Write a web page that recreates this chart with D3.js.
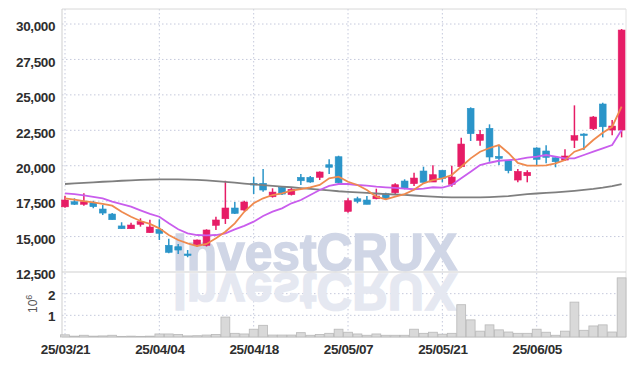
<!DOCTYPE html>
<html>
<head>
<meta charset="utf-8">
<script src="https://cdn.jsdelivr.net/npm/d3@7"></script>
<style>
  body { margin: 0; background: #fff; }
  text { font-family: "Liberation Sans", Arial, sans-serif; }
</style>
</head>
<body>
<svg width="634" height="366"></svg>
<script>
const dates = ["25/03/21","25/03/24","25/03/25","25/03/26","25/03/27","25/03/28","25/03/31","25/04/01","25/04/02","25/04/03",
  "25/04/04","25/04/07","25/04/08","25/04/09","25/04/10","25/04/11","25/04/14","25/04/15","25/04/16","25/04/17",
  "25/04/18","25/04/21","25/04/22","25/04/23","25/04/24","25/04/25","25/04/28","25/04/29","25/04/30","25/05/02",
  "25/05/07","25/05/08","25/05/09","25/05/12","25/05/13","25/05/14","25/05/15","25/05/16","25/05/19","25/05/20",
  "25/05/21","25/05/22","25/05/23","25/05/26","25/05/27","25/05/28","25/05/29","25/05/30","25/06/02","25/06/04",
  "25/06/05","25/06/09","25/06/10","25/06/11","25/06/12","25/06/13","25/06/16","25/06/17","25/06/18","25/06/19"];

const open  = [17100,17460,17280,17390,16945,16590,15750,15555,15865,15275, 15510,14385,14285,13770,14426,14384,15795,16260,17016,16875,
  18760,18760,17810,18477,17960,19180,19180,19180,20070,20635, 16780,17670,17580,17670,18025,18095,18920,18735,19627,18850,
  19680,18690,19930,24050,21793,22640,20660,20350,18990,19295, 21250,21040,20565,20400,21800,22237,22610,24355,22520,22520];
const high  = [17880,17700,18050,17530,17230,16660,16010,15980,16290,16190, 16220,14850,14475,14050,14800,15513,16400,18940,17440,17530,
  19225,19770,18405,18520,18477,19415,19275,19600,20450,20706, 17700,17813,17860,18380,18095,18760,19040,19506,19930,20030,
  19700,20000,21975,24120,22520,22920,21460,20350,19770,19680, 21300,21440,20600,21160,24260,22286,23505,24446,23225,29650];
const low   = [17040,17230,17180,17000,16520,16190,15555,15555,15700,15275, 14760,13820,13770,13540,14285,14300,15463,15890,16600,16800,
  18000,18166,17750,17933,17900,18640,18800,18990,19415,18640, 16685,17348,17277,17630,17580,18000,18335,18570,18760,18850,
  18830,18520,19860,21743,21410,20283,20050,19465,18830,18830, 20050,20170,19890,20350,21250,21110,22520,22000,22145,22000];
const close = [17580,17280,17460,17110,16660,16190,15555,15815,16050,15675, 15230,13890,14050,13680,14758,15463,16170,17016,16640,17440,
  18640,18285,18140,18000,18335,18940,18850,19556,19890,18800, 17530,17490,17277,17860,17670,18660,18405,19130,18830,19365,
  19110,19200,21530,22260,22218,20615,20520,19650,19600,19535, 20450,20590,20283,20685,22120,22145,23435,22750,22800,29575];

const ma5 = [17700,17600,17500,17420,17300,17180,16755,16400,16100,15890, 15580,15110,14760,14525,14335,14476,14878,15345,15935,16750,
  17348,17700,17933,18053,18237,18356,18476,18640,19110,19225, 18870,18640,18285,17813,17630,17813,18000,18300,18760,18990,
  19110,19345,19930,20520,20990,21250,21460,20900,20200,20000, 20000,20030,20170,20400,20990,21225,21815,22330,22750,24165];
const ma20 = [18053,17990,17900,17800,17700,17460,17290,17108,16850,16600, 16400,15935,15513,15230,15110,15090,15110,15230,15513,15760,
  16050,16450,16755,16995,17348,17580,17933,18285,18570,18710, 18710,18640,18590,18520,18476,18430,18390,18340,18380,18480,
  18450,18640,19110,19580,20050,20210,20350,20400,20450,20565, 20635,20755,20640,20520,20520,20755,20990,21225,21460,22520];
const maLong = [18710,18750,18790,18830,18870,18900,18940,18970,19000,19020, 19040,19040,19030,19020,19000,18970,18920,18860,18800,18740,
  18680,18630,18580,18530,18480,18420,18370,18310,18260,18200, 18160,18120,18080,18040,18000,17970,17940,17900,17860,17820,
  17790,17770,17760,17760,17770,17790,17820,17860,17920,17990, 18040,18080,18120,18170,18230,18290,18360,18450,18560,18710];

const volume = [100000,40000,80000,40000,50000,80000,30000,40000,30000,40000, 140000,140000,120000,50000,60000,90000,120000,920000,170000,140000,
  360000,540000,90000,90000,90000,200000,80000,120000,170000,360000, 220000,140000,80000,140000,80000,80000,80000,360000,170000,220000,
  130000,170000,1490000,790000,270000,560000,330000,230000,170000,170000, 360000,220000,80000,270000,1610000,310000,510000,560000,230000,2730000];

const priceTicks = [12500,15000,17500,20000,22500,25000,27500,30000];
const volTicks = [1000000,2000000];
const dateTicks = ["25/03/21","25/04/04","25/04/18","25/05/07","25/05/21","25/06/05"];

const plotLeft = 62, plotRight = 626, plotTop = 9, sep = 272, plotBottom = 337;
const upColor = "#e61c66", downColor = "#2b95c9";

const svg = d3.select("svg");

const x = d3.scalePoint().domain(dates).range([65, 621.6]);
const y = d3.scaleLinear().domain([12500, 31060]).range([sep, plotTop]);
const yv = d3.scaleLinear().domain([0, 3000000]).range([plotBottom, sep]);
const step = x.step();

// grid
const grid = svg.append("g").attr("stroke", "#c5c9dc").attr("stroke-dasharray", "1.5,2.5");
grid.selectAll(".hg").data(priceTicks.slice(1)).enter().append("line")
  .attr("x1", plotLeft).attr("x2", plotRight).attr("y1", d => y(d)).attr("y2", d => y(d));
grid.selectAll(".vg").data(volTicks).enter().append("line")
  .attr("x1", plotLeft).attr("x2", plotRight).attr("y1", d => yv(d)).attr("y2", d => yv(d));
grid.selectAll(".xg").data(dateTicks).enter().append("line")
  .attr("x1", d => x(d)).attr("x2", d => x(d)).attr("y1", plotTop).attr("y2", plotBottom);

// watermark with its reflection
const wm = svg.append("g").attr("font-size", 52).attr("font-weight", "bold")
  .attr("textLength", 284).attr("lengthAdjust", "spacingAndGlyphs");
wm.append("text").attr("x", 173).attr("y", 270)
  .attr("fill", "#d0d6e6").attr("stroke", "#d0d6e6").attr("stroke-width", 1.6)
  .attr("textLength", 284).attr("lengthAdjust", "spacingAndGlyphs")
  .text("InvestCRUX");
wm.append("text").attr("x", 173).attr("y", -274)
  .attr("transform", "scale(1,-1)")
  .attr("fill", "#e5e8f1").attr("stroke", "#e5e8f1").attr("stroke-width", 1.6)
  .attr("textLength", 284).attr("lengthAdjust", "spacingAndGlyphs")
  .text("InvestCRUX");

// frame
svg.append("line").attr("x1", plotLeft).attr("x2", plotRight).attr("y1", plotTop).attr("y2", plotTop).attr("stroke", "#d8d8d8");
svg.append("line").attr("x1", plotLeft).attr("x2", plotLeft).attr("y1", plotTop).attr("y2", plotBottom).attr("stroke", "#cfcfcf");
svg.append("line").attr("x1", plotRight).attr("x2", plotRight).attr("y1", plotTop).attr("y2", plotBottom).attr("stroke", "#e2e2e2");
svg.append("line").attr("x1", plotLeft).attr("x2", plotRight).attr("y1", sep).attr("y2", sep).attr("stroke", "#cfcfcf");
svg.append("line").attr("x1", plotLeft).attr("x2", plotRight).attr("y1", plotBottom).attr("y2", plotBottom).attr("stroke", "#dcdcdc");

// volume bars
svg.append("g").selectAll("rect").data(volume).enter().append("rect")
  .attr("x", (d, i) => x(dates[i]) - step / 2 + 0.3)
  .attr("width", step - 0.6)
  .attr("y", d => yv(d))
  .attr("height", d => plotBottom - yv(d))
  .attr("fill", "#d9d9d9").attr("stroke", "#b8b8b8").attr("stroke-width", 0.8);

// candles
const candles = svg.append("g").selectAll("g").data(dates).enter().append("g")
  .attr("fill", (d, i) => close[i] >= open[i] ? upColor : downColor)
  .attr("stroke", (d, i) => close[i] >= open[i] ? upColor : downColor);
candles.append("line")
  .attr("x1", d => x(d)).attr("x2", d => x(d))
  .attr("y1", (d, i) => y(high[i])).attr("y2", (d, i) => y(low[i]))
  .attr("stroke-width", 1.5);
candles.append("rect")
  .attr("x", d => x(d) - 3.4).attr("width", 6.8)
  .attr("y", (d, i) => y(Math.max(open[i], close[i])))
  .attr("height", (d, i) => Math.max(1.5, Math.abs(y(open[i]) - y(close[i]))))
  .attr("stroke-width", 0.6);

// moving averages
const line = d3.line().x((d, i) => x(dates[i])).y(d => y(d));
svg.append("path").datum(maLong).attr("d", line).attr("fill", "none").attr("stroke", "#7f7f7f").attr("stroke-width", 1.8);
svg.append("path").datum(ma20).attr("d", line).attr("fill", "none").attr("stroke", "#c95ded").attr("stroke-width", 1.8);
svg.append("path").datum(ma5).attr("d", line).attr("fill", "none").attr("stroke", "#ef8a4e").attr("stroke-width", 1.8);

// axes
const yAxis = svg.append("g").attr("transform", `translate(${plotLeft - 7},0)`)
  .call(d3.axisLeft(y).tickValues(priceTicks).tickFormat(d3.format(",")).tickSize(0).tickPadding(0));
const vAxis = svg.append("g").attr("transform", `translate(${plotLeft - 7},0)`)
  .call(d3.axisLeft(yv).tickValues(volTicks).tickFormat(d => d / 1e6).tickSize(0).tickPadding(0));
const xAxis = svg.append("g").attr("transform", `translate(0,${plotBottom})`)
  .call(d3.axisBottom(x).tickValues(dateTicks).tickSize(0).tickPadding(6));
[yAxis, vAxis, xAxis].forEach(a => {
  a.select(".domain").remove();
  a.selectAll("text").attr("fill", "#2e2e2e").attr("font-size", 13.5).attr("font-weight", "bold")
    .attr("letter-spacing", "-0.4").attr("font-family", "'Liberation Sans', Arial, sans-serif");
});
yAxis.selectAll("text").attr("dy", "0.5em");
vAxis.selectAll("text").attr("dy", "0.4em");
xAxis.selectAll("text").attr("dy", "0.85em");

// volume unit label
const unit = svg.append("text").attr("transform", "translate(37,313) rotate(-90)")
  .attr("font-size", 12).attr("fill", "#555");
unit.append("tspan").text("10");
unit.append("tspan").attr("dy", -5).attr("font-size", 9).text("6");
</script>
</body>
</html>
